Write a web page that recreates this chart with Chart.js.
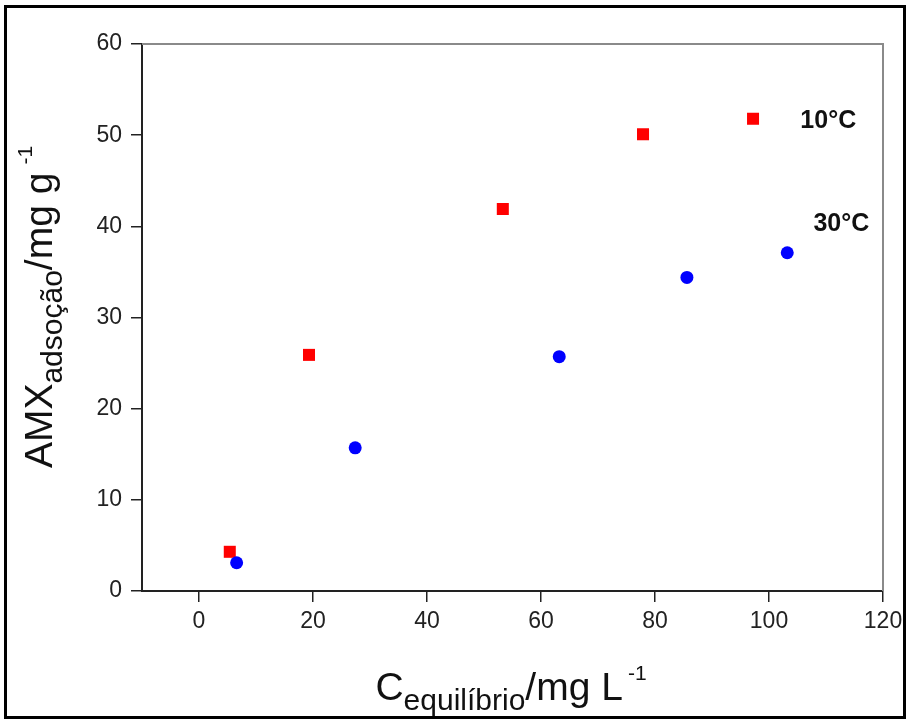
<!DOCTYPE html>
<html>
<head>
<meta charset="utf-8">
<script src="https://cdn.jsdelivr.net/npm/chart.js@4.4.1/dist/chart.umd.min.js"></script>
<style>
  html, body { margin: 0; padding: 0; background: #fff; }
  #wrap { width: 909px; height: 724px; }
</style>
</head>
<body>
<div id="wrap"><canvas id="c" width="909" height="724"></canvas></div>
<script>
// ---- data ----
const seriesNames = ['10°C', '30°C'];
const x10 = [5.4, 19.3, 53.3, 77.9, 97.2];
const y10 = [4.3, 25.9, 41.9, 50.1, 51.8];
const x30 = [6.6, 27.4, 63.2, 85.6, 103.2];
const y30 = [3.1, 15.7, 25.7, 34.4, 37.1];
const xTicks = [0, 20, 40, 60, 80, 100, 120];
const yTicks = [0, 10, 20, 30, 40, 50, 60];

const toPts = (xs, ys) => xs.map((x, i) => ({ x: x, y: ys[i] }));

function drawRich(ctx, segs, cx, baseY) {
  let total = 0;
  segs.forEach(s => {
    ctx.font = (s.bold ? 'bold ' : '') + s.size + 'px Arial, "Liberation Sans", sans-serif';
    s.w = ctx.measureText(s.text).width;
    total += s.w + (s.gap || 0);
  });
  let x = cx - total / 2;
  ctx.textAlign = 'left';
  ctx.textBaseline = 'alphabetic';
  segs.forEach(s => {
    ctx.font = (s.bold ? 'bold ' : '') + s.size + 'px Arial, "Liberation Sans", sans-serif';
    ctx.fillText(s.text, x + (s.gap || 0), baseY + (s.dy || 0));
    x += s.w + (s.gap || 0);
  });
}

const decor = {
  id: 'decor',
  beforeDraw(chart) {
    const ctx = chart.ctx;
    ctx.save();
    ctx.fillStyle = '#fff';
    ctx.fillRect(0, 0, chart.width, chart.height);
    ctx.restore();
  },
  afterDraw(chart) {
    const ctx = chart.ctx;
    const a = chart.chartArea;
    const xs = chart.scales.x, ys = chart.scales.y;
    ctx.save();
    // top and right frame of plot
    ctx.strokeStyle = '#8a8a8a';
    ctx.lineWidth = 2;
    ctx.beginPath();
    ctx.moveTo(a.left, a.top);
    ctx.lineTo(a.right, a.top);
    ctx.lineTo(a.right, a.bottom);
    ctx.stroke();
    // outer border
    ctx.strokeStyle = '#000';
    ctx.lineWidth = 3;
    ctx.strokeRect(5.5, 6.5, 899, 711);

    ctx.fillStyle = '#111';
    // x title
    drawRich(ctx, [
      { text: 'C', size: 39 },
      { text: 'equilíbrio', size: 30, dy: 10 },
      { text: '/mg L', size: 39 },
      { text: '-1', size: 21, dy: -20, gap: 5 }
    ], 511, 700);
    // y title
    ctx.save();
    ctx.translate(52, 307);
    ctx.rotate(-Math.PI / 2);
    drawRich(ctx, [
      { text: 'AMX', size: 39 },
      { text: 'adsoção', size: 30, dy: 10 },
      { text: '/mg g', size: 39 },
      { text: '-1', size: 21, dy: -20, gap: 8 }
    ], 0, 0);
    ctx.restore();

    // series labels
    ctx.font = 'bold 25px Arial, "Liberation Sans", sans-serif';
    ctx.textAlign = 'left';
    ctx.textBaseline = 'alphabetic';
    ctx.fillStyle = '#111';
    ctx.fillText(seriesNames[0], xs.getPixelForValue(105.5), ys.getPixelForValue(51.8) + 9);
    ctx.fillText(seriesNames[1], xs.getPixelForValue(107.8), ys.getPixelForValue(40.5) + 9);
    ctx.restore();
  }
};

const tickFont = { family: 'Arial, "Liberation Sans", sans-serif', size: 23 };

new Chart(document.getElementById('c'), {
  type: 'scatter',
  data: {
    datasets: [
      {
        label: seriesNames[1],
        data: toPts(x30, y30),
        pointStyle: 'circle',
        pointRadius: 6.5,
        pointHoverRadius: 6.5,
        backgroundColor: '#0000ff',
        borderColor: '#0000ff',
        borderWidth: 0
      },
      {
        label: seriesNames[0],
        data: toPts(x10, y10),
        pointStyle: 'rect',
        pointRadius: 8.5,
        pointHoverRadius: 8.5,
        backgroundColor: '#ff0000',
        borderColor: '#ff0000',
        borderWidth: 0
      }
    ]
  },
  options: {
    responsive: false,
    animation: false,
    devicePixelRatio: 1,
    layout: { padding: { top: 44, right: 26, left: 0, bottom: 0 } },
    plugins: { legend: { display: false }, tooltip: { enabled: false } },
    scales: {
      x: {
        type: 'linear',
        min: -10,
        max: 120,
        afterBuildTicks(scale) { scale.ticks = xTicks.map(v => ({ value: v })); },
        afterFit(scale) { scale.height = 133; },
        ticks: { font: tickFont, color: '#222', padding: 6, maxRotation: 0, autoSkip: false },
        grid: { drawOnChartArea: false, drawTicks: true, tickLength: 11, color: '#222', lineWidth: 1.5 },
        border: { color: '#222', width: 2 }
      },
      y: {
        type: 'linear',
        min: 0,
        max: 60,
        afterBuildTicks(scale) { scale.ticks = yTicks.map(v => ({ value: v })); },
        afterFit(scale) { scale.width = 142; },
        ticks: { font: tickFont, color: '#222', padding: 9, autoSkip: false },
        grid: { drawOnChartArea: false, drawTicks: true, tickLength: 11, color: '#222', lineWidth: 1.5 },
        border: { color: '#222', width: 2 }
      }
    }
  },
  plugins: [decor]
});
</script>
</body>
</html>
